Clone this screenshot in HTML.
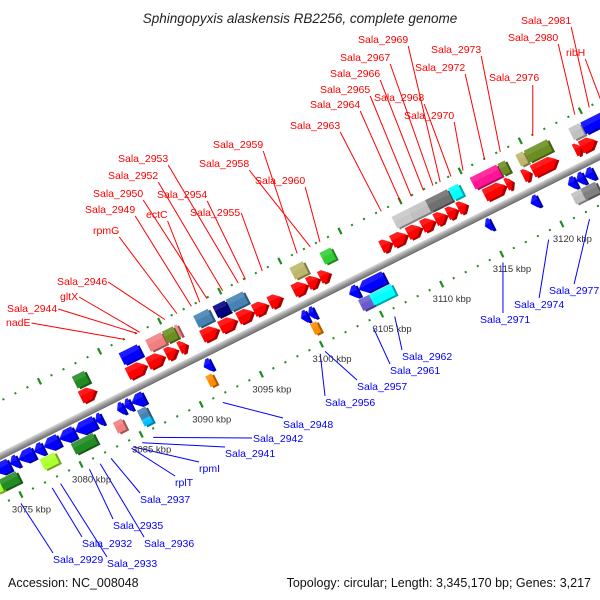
<!DOCTYPE html>
<html><head><meta charset="utf-8">
<style>
html,body{margin:0;padding:0;background:#fff;}
svg{display:block;font-family:"Liberation Sans","DejaVu Sans",sans-serif;}
</style></head>
<body>
<svg id="chart" width="600" height="600" viewBox="0 0 600 600">
  <defs>
    <linearGradient id="bb" x1="0" y1="0" x2="0" y2="1">
      <stop offset="0" stop-color="#dcdcdc"/>
      <stop offset="0.45" stop-color="#a0a0a0"/>
      <stop offset="1" stop-color="#6a6a6a"/>
    </linearGradient>
  </defs>
  <text x="300" y="23" text-anchor="middle" font-size="13.5" font-style="italic" fill="#222">Sphingopyxis alaskensis RB2256, complete genome</text>
  <g id="band" transform="translate(0,458) rotate(-26.565)"></g>
  <g id="leaders"></g>
  <g id="labels"></g>
  <g id="kbp"></g>
  <text x="8" y="587" font-size="12.5" fill="#111">Accession: NC_008048</text>
  <text x="591" y="587" font-size="12.5" fill="#111" text-anchor="end">Topology: circular; Length: 3,345,170 bp; Genes: 3,217</text>
</svg>
<script>
// ---- data ----
const tickKbp = [3075,3080,3085,3090,3095,3100,3105,3110,3115,3120];
const tickLabels = ["3075 kbp","3080 kbp","3085 kbp","3090 kbp","3095 kbp","3100 kbp","3105 kbp","3110 kbp","3115 kbp","3120 kbp"];
const geneStart = [
 3082.2,3086.1,3087.8,3089.3,3090.4,3092.3,3093.8,3095.3,3096.6,3097.9,3099.9,3101.1,3102.1,
 3107.2,3108.1,3109.4,3110.6,3111.7,3112.7,3113.6,3115.8,3117.6,3119.0,3119.8,3123.3,3123.8,
 3082.3,3086.2,3088.4,3089.8,3090.8,3092.4,3094.0,3095.1,3100.4,3102.9,3108.9,3110.3,3111.7,3112.6,3113.6,3115.4,3117.7,3119.2,3119.9,3123.6,3124.6,
 3074.0,3075.3,3076.0,3077.3,3078.1,3079.4,3080.7,3082.4,3084.2,3084.8,3085.4,3091.4,3099.5,3100.1,3103.5,3104.3,3114.8,3118.6,3121.7,3122.4,3123.1,
 3073.5,3074.0,3077.4,3080.0,3083.5,3085.5,3091.2,3099.9,3103.9,3104.8,3121.6,3122.4,
 3085.5
];
const geneEnd = [
 3083.4,3087.6,3089.1,3090.2,3091.0,3093.6,3095.1,3096.5,3097.7,3098.9,3101.0,3102.0,3102.9,
 3108.0,3109.3,3110.5,3111.6,3112.6,3113.5,3114.3,3117.5,3118.1,3119.6,3121.8,3123.8,3125.0,
 3083.3,3087.7,3089.7,3090.7,3091.0,3093.6,3095.0,3096.5,3101.5,3103.8,3110.3,3111.7,3112.6,3113.5,3114.4,3117.6,3118.3,3119.8,3121.8,3124.5,3126.5,
 3075.2,3075.9,3077.2,3078.0,3079.3,3080.6,3082.3,3082.9,3084.7,3085.3,3086.4,3092.0,3100.0,3100.6,3104.2,3106.4,3115.3,3119.2,3122.3,3123.0,3123.8,
 3074.0,3075.4,3078.6,3081.8,3084.2,3086.2,3091.7,3100.4,3104.8,3106.6,3122.4,3123.6,
 3086.2
];
const geneRow = [
 "F1","F1","F1","F1","F1","F1","F1","F1","F1","F1","F1","F1","F1",
 "F1","F1","F1","F1","F1","F1","F1","F1","F1","F1","F1","F1","F1",
 "F2","F2","F2","F2","F2","F2","F2","F2","F2","F2","F2","F2","F2","F2","F2","F2","F2","F2","F2","F2","F2",
 "R1","R1","R1","R1","R1","R1","R1","R1","R1","R1","R1","R1","R1","R1","R1","R1","R1","R1","R1","R1","R1",
 "R2","R2","R2","R2","R2","R2","R2","R2","R2","R2","R2","R2",
 "R3"
];
const geneColor = [
 "#ff0000","#ff0000","#ff0000","#ff0000","#ff0000","#ff0000","#ff0000","#ff0000","#ff0000","#ff0000","#ff0000","#ff0000","#ff0000",
 "#ff0000","#ff0000","#ff0000","#ff0000","#ff0000","#ff0000","#ff0000","#ff0000","#ff0000","#ff0000","#ff0000","#ff0000","#ff0000",
 "#228b22","#0000ff","#f08080","#6b8e23","#f08080","#4682b4","#000080","#4682b4","#bdb76b","#32cd32","#c8c8c8","#c0c0c0","#707070","#707070","#00ffff","#ff1493","#6b8e23","#bdb76b","#6b8e23","#c0c0c0","#0000ff",
 "#0000ff","#0000ff","#0000ff","#0000ff","#0000ff","#0000ff","#0000ff","#0000ff","#0000ff","#0000ff","#0000ff","#0000ff","#0000ff","#0000ff","#0000ff","#0000ff","#0000ff","#0000ff","#0000ff","#0000ff","#0000ff",
 "#adff2f","#228b22","#adff2f","#228b22","#f08080","#4682b4","#ff8c00","#ff8c00","#6a5acd","#00ffff","#c0c0c0","#808080",
 "#00bfff"
];
const topNames = ["Sala_2981","Sala_2980","ribH","Sala_2969","Sala_2973","Sala_2967","Sala_2972","Sala_2966","Sala_2976","Sala_2965","Sala_2968","Sala_2964","Sala_2970","Sala_2963","Sala_2959","Sala_2953","Sala_2958","Sala_2952","Sala_2960","Sala_2950","Sala_2954","Sala_2949","ectC","Sala_2955","rpmG","Sala_2946","gltX","Sala_2944","nadE"];
const topKbp = [3125.7,3124.5,3126.7,3113.3,3118.3,3112.7,3117.0,3111.9,3121.0,3110.9,3114.2,3110.0,3115.2,3108.4,3101.4,3096.5,3102.5,3095.2,3103.3,3093.9,3097.1,3092.6,3093.3,3098.5,3091.4,3090.4,3088.3,3088.1,3087.1];
const topX = [521,508,566,358,431,340,415,330,489,320,374,310,404,290,213,118,199,108,255,93,157,85,146,190,93,57,60,7,6];
const topY = [24,41,56,43,53,61,71,77,81,93,101,108,119,129,148,162,167,179,184,197,198,213,218,216,234,285,300,312,326];
const botNames = ["Sala_2977","Sala_2974","Sala_2971","Sala_2962","Sala_2961","Sala_2957","Sala_2956","Sala_2948","Sala_2942","Sala_2941","rpmI","rplT","Sala_2937","Sala_2935","Sala_2936","Sala_2932","Sala_2933","Sala_2929"];
const botKbp = [3122.0,3118.6,3114.8,3105.8,3104.0,3100.0,3099.6,3091.5,3085.7,3084.8,3084.1,3083.9,3082.2,3080.4,3081.3,3077.3,3078.0,3074.7];
const botX = [549,514,480,402,390,357,325,283,253,225,199,175,140,113,144,82,107,53];
const botY = [294,308,323,360,374,390,406,428,442,457,472,486,503,529,547,547,567,563];

// ---- geometry ----
const C = Math.cos(26.565*Math.PI/180), S = Math.sin(26.565*Math.PI/180);
function U(k){ return 204 + (k-3090)*13.44; }
function P(k,v){ const u=U(k); return [u*C + v*S, 458 - u*S + v*C]; }
const rowV = {F1:-18, F2:-34, R1:10, R2:25, R3:33};
const rowH = {F1:13, F2:13, R1:13, R2:12, R3:7};
const NS="http://www.w3.org/2000/svg";
function mk(tag, attrs, parent){ const e=document.createElementNS(NS,tag); for(const a in attrs) e.setAttribute(a,attrs[a]); parent.appendChild(e); return e; }

const band=document.getElementById('band');
[-51,42].forEach(function(v){
  for(let k=3068;k<=3131;k++){
    const u=U(k);
    if(k%5===0){
      const d=mk('line',{x1:u,y1:v-3.5,x2:u,y2:v+3.5,stroke:'#1e8c1e','stroke-width':2.2},band);
      
      
    } else {
      const d=mk('rect',{x:u-1,y:v-1,width:2,height:2,fill:'#1e8c1e'},band);
      
      
    }
  }
});
const bb=mk('rect',{x:-60,y:-5,width:800,height:7,fill:'url(#bb)'},band);



function shade(hex,f){
  const n=parseInt(hex.slice(1),16); let r=n>>16,g=(n>>8)&255,b=n&255;
  if(f<0){r*=1+f;g*=1+f;b*=1+f;} else {r+=(255-r)*f;g+=(255-g)*f;b+=(255-b)*f;}
  return 'rgb('+Math.round(r)+','+Math.round(g)+','+Math.round(b)+')';
}
for(let i=0;i<geneStart.length;i++){
  const row=geneRow[i], v=rowV[row], h=rowH[row];
  const a=U(geneStart[i]), b=U(geneEnd[i]);
  const top=v-h/2, bot=v+h/2, mid=v;
  const col=geneColor[i];
  let pts;
  const len=b-a, hd=Math.min(7,len*0.6);
  if(row==='F1'){
    pts=[[a,top],[b-hd,top],[b,mid],[b-hd,bot],[a,bot]];
  } else if(row==='R1'){
    pts=[[b,top],[a+hd,top],[a,mid],[a+hd,bot],[b,bot]];
  } else {
    pts=[[a,top],[b,top],[b,bot],[a,bot]];
  }
  const g=mk('g',{},band);
  
  
  const dpts=pts.map(p=>[p[0]+2,p[1]+2]);
  mk('polygon',{points:dpts.map(p=>p.join(',')).join(' '),fill:shade(col,-0.35)},g);
  mk('polygon',{points:pts.map(p=>p.join(',')).join(' '),fill:col},g);
  const hp=pts.map(p=>[p[0],Math.min(p[1],mid-1)]);
  mk('polygon',{points:hp.map(p=>p.join(',')).join(' '),fill:shade(col,0.2),opacity:0.55},g);
}

const kg=document.getElementById('kbp');
for(let i=0;i<tickKbp.length;i++){
  const p=P(tickKbp[i],42);
  const t=mk('text',{x:p[0]-9,y:p[1]+18,'font-size':9.5,fill:'#333'},kg);
  t.textContent=tickLabels[i];
  
  
}

const lg=document.getElementById('labels'), ld=document.getElementById('leaders');
for(let i=0;i<topNames.length;i++){
  const t=mk('text',{x:topX[i],y:topY[i],'font-size':10.5,fill:'#ff0000'},lg);
  t.textContent=topNames[i];
  
  
  const w=t.getComputedTextLength();
  const e=P(topKbp[i],-50);
  let ax, ay;
  if(e[0]>topX[i]+w+4 && e[1] < topY[i]+60 && topX[i]<200){ ax=topX[i]+w+1; ay=topY[i]-3; }
  else if(e[0]>topX[i]+w+4){ ax=topX[i]+w; ay=topY[i]+3; }
  else { ax=Math.max(topX[i]+w*0.55, Math.min(e[0], topX[i]+w)); ay=topY[i]+4; }
  const l=mk('line',{x1:ax,y1:ay,x2:e[0],y2:e[1],stroke:'#ff0000','stroke-width':1},ld);
  
  
}
for(let i=0;i<botNames.length;i++){
  const t=mk('text',{x:botX[i],y:botY[i],'font-size':10.5,fill:'#0000ff'},lg);
  t.textContent=botNames[i];
  
  
  const w=t.getComputedTextLength();
  const e=P(botKbp[i],50);
  let ax, ay;
  if(e[0]<botX[i]-4 && e[1] > botY[i]-14){ ax=botX[i]-1; ay=botY[i]-4; }
  else { ax=Math.min(Math.max(e[0],botX[i]),botX[i]+w*0.5); ay=botY[i]-10; }
  const l=mk('line',{x1:ax,y1:ay,x2:e[0],y2:e[1],stroke:'#0000ff','stroke-width':1},ld);
  
  
}
</script>
</body></html>
